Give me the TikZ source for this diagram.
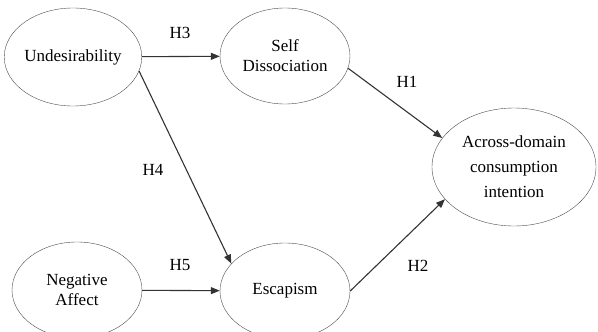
\documentclass[tikz,border=0pt]{standalone}
\usepackage{fontspec}
\setmainfont{Liberation Serif}
\usetikzlibrary{shapes.geometric,arrows.meta}

\begin{document}
\begin{tikzpicture}[x=1pt, y=-1pt,
        construct/.style={draw=black!70, ellipse, inner sep=0pt, align=center,
            font=\fontsize{17}{20}\selectfont},
        path/.style={draw=black!80, line width=1.1pt, -{Triangle[length=9pt,width=7pt]}},
        hyp/.style={font=\fontsize{17}{20}\selectfont}]
        \useasboundingbox (0,0) rectangle (598,332);

        % constructs
        \node[construct, minimum width=122pt, minimum height=98pt] (undes) at (73, 57) {Undesirability};
        \node[construct, minimum width=130pt, minimum height=96pt] (self) at (285, 56) {Self\\Dissociation};
        \node[construct, minimum width=164pt, minimum height=118pt, font=\fontsize{17}{25}\selectfont] (across) at (514, 167) {Across-domain\\consumption\\intention};
        \node[construct, minimum width=130pt, minimum height=96pt] (neg) at (77, 290) {Negative\\Affect};
        \node[construct, minimum width=130pt, minimum height=96pt] (escap) at (285, 291) {Escapism};

        % draw paths
        \draw[path] (undes) -- (self);
        \draw[path] (self.-11) -- (across.158);
        \draw[path] (undes.-12) -- (escap.153);
        \draw[path] (neg) -- (escap);
        \draw[path] (escap.east) -- (across.205);

        % labels
        \node[hyp] (h3) at (180, 33) {H3};
        \node[hyp] (h1) at (407, 82) {H1};
        \node[hyp] (h4) at (153, 170) {H4};
        \node[hyp] (h5) at (180, 265) {H5};
        \node[hyp] (h2) at (418, 266) {H2};
\end{tikzpicture}
\end{document}
